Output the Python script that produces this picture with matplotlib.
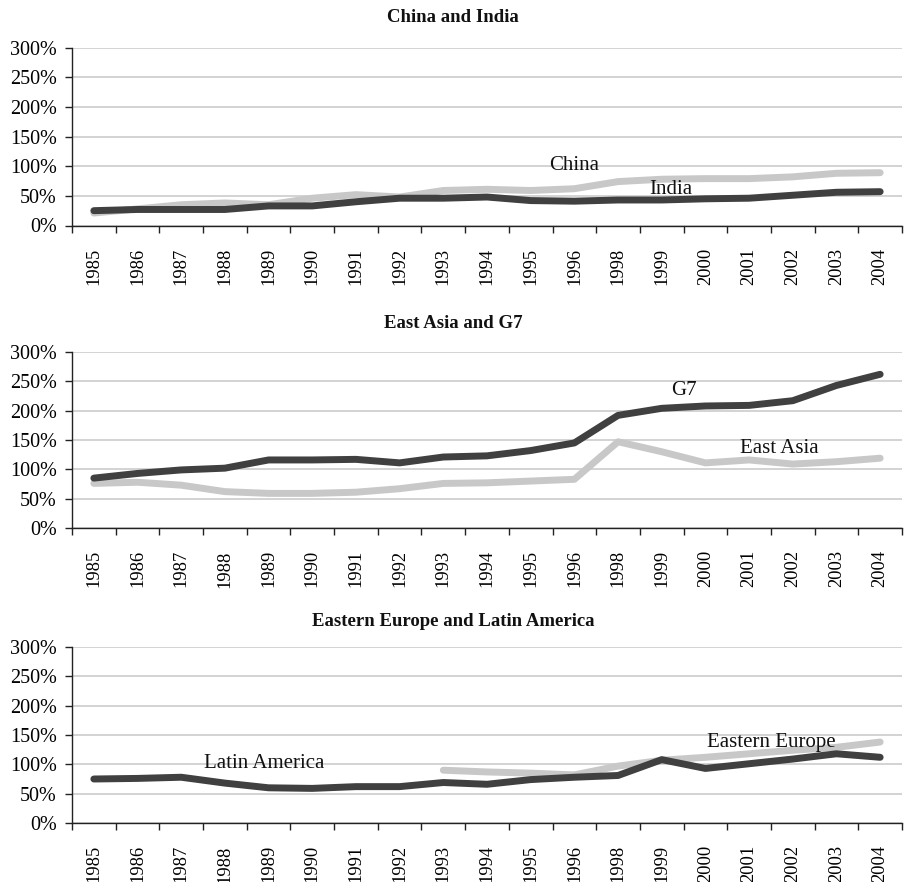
import numpy as np
import matplotlib
matplotlib.use("Agg")
import matplotlib.pyplot as plt
from matplotlib.ticker import FuncFormatter

years = ["1985", "1986", "1987", "1988", "1989", "1990", "1991", "1992", "1993",
         "1994", "1995", "1996", "1998", "1999", "2000", "2001", "2002", "2003", "2004"]

china = [21, 28, 35, 38, 35, 46, 52, 48, 59, 61, 59, 62, 74, 78, 79, 79, 82, 88, 89]
india = [25, 27, 27, 27, 33, 33, 40, 46, 46, 48, 42, 41, 43, 43, 45, 46, 51, 56, 57]

g7 = [85, 93, 99, 102, 116, 116, 117, 111, 121, 123, 132, 145, 192, 204, 208, 209, 217, 243, 262]
east_asia = [76, 78, 73, 62, 59, 59, 61, 67, 76, 77, 80, 83, 147, 130, 111, 116, 109, 113, 119]

latin_america = [75, 76, 78, 68, 60, 59, 62, 62, 69, 66, 74, 78, 81, 108, 93, 101, 109, 118, 112]
eastern_europe = [np.nan] * 8 + [90, 87, 85, 82, 97, 107, 112, 118, 124, 129, 138]

panels = [
    ("China and India",
     [(china, "light"), (india, "dark")],
     [("China", 11.0, 101), ("India", 13.2, 61)]),
    ("East Asia and G7",
     [(east_asia, "light"), (g7, "dark")],
     [("G7", 13.5, 235), ("East Asia", 15.7, 136)]),
    ("Eastern Europe and Latin America",
     [(eastern_europe, "light"), (latin_america, "dark")],
     [("Latin America", 3.9, 102), ("Eastern Europe", 15.5, 137)]),
]

colors = {"light": "#c8c8c8", "dark": "#404040"}
serif = ["Liberation Serif", "DejaVu Serif"]
plt.rcParams["font.family"] = serif

W, H = 906, 882
fig = plt.figure(figsize=(W / 100, H / 100), dpi=100)

# (top, bottom) pixel positions of each axes, title y
boxes = [(47.5, 225.5, 18), (352, 528, 324), (647, 823, 622)]
left_px, right_px = 72, 902

x = np.arange(len(years))
for (title, series, labels), (top, bot, ty) in zip(panels, boxes):
    ax = fig.add_axes([left_px / W, (H - bot) / H, (right_px - left_px) / W, (bot - top) / H])
    for vals, kind in series:
        ax.plot(x, vals, color=colors[kind], lw=5, solid_capstyle="round",
                solid_joinstyle="round", zorder=3)
    ax.set_xlim(-0.5, len(years) - 0.5)
    ax.set_ylim(0, 300)
    ax.set_yticks(np.arange(0, 301, 50))
    ax.yaxis.set_major_formatter(FuncFormatter(lambda v, p: f"{int(v)}%"))
    ax.set_xticks(x)
    ax.set_xticklabels(years, rotation=90, fontsize=13.3)
    ax.set_xticks(np.arange(-0.5, len(years)), minor=True)
    ax.tick_params(axis="x", which="major", length=0, pad=16)
    ax.tick_params(axis="x", which="minor", length=5, width=1, color="#222222")
    ax.tick_params(axis="y", length=5, width=1, color="#222222", labelsize=14.5, pad=6)
    ax.grid(axis="y", color="#d0d0d0", lw=1.3, zorder=0)
    for s in ("top", "right"):
        ax.spines[s].set_visible(False)
    for s in ("left", "bottom"):
        ax.spines[s].set_color("#222222")
        ax.spines[s].set_linewidth(1)
    ax.set_axisbelow(True)
    for txt, lx, ly in labels:
        ax.text(lx, ly, txt, fontsize=15, ha="center", va="center", color="#111111", zorder=5)
    fig.text(0.5, 1 - ty / H, title, ha="center", va="center", fontsize=13.5,
             fontweight="bold", color="#111111")

fig.savefig("out.png", dpi=100)
